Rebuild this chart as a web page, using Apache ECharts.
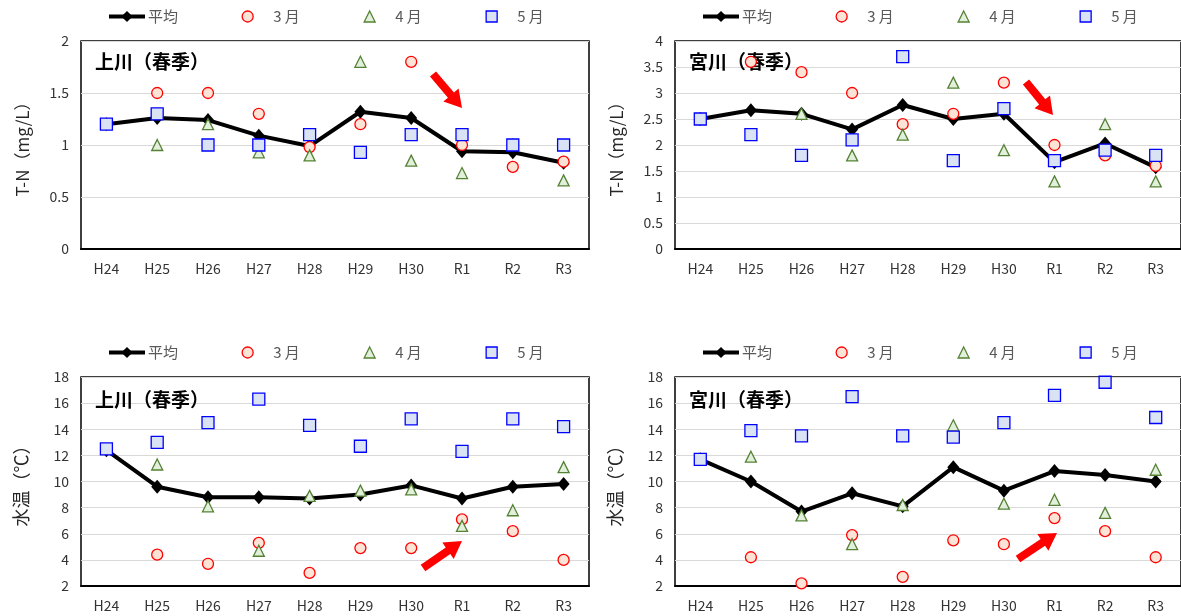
<!DOCTYPE html>
<html>
<head>
<meta charset="utf-8">
<script src="https://cdn.jsdelivr.net/npm/echarts@6/dist/echarts.min.js"></script>
<style>html,body{margin:0;padding:0;background:#fff}#c{width:1181px;height:616px}</style>
</head>
<body>
<div id="c"></div>
<script>
var categories = ['H24','H25','H26','H27','H28','H29','H30','R1','R2','R3'];

var tnKamiAvg = [1.2,1.26,1.24,1.09,0.99,1.32,1.26,0.94,0.93,0.83];
var tnKamiMar = [null,1.5,1.5,1.3,0.98,1.2,1.8,1.0,0.79,0.84];
var tnKamiApr = [null,1.0,1.2,0.93,0.9,1.8,0.85,0.73,1.0,0.66];
var tnKamiMay = [1.2,1.3,1.0,1.0,1.1,0.93,1.1,1.1,1.0,1.0];

var tnMiyaAvg = [2.5,2.67,2.6,2.3,2.77,2.5,2.6,1.67,2.03,1.57];
var tnMiyaMar = [null,3.6,3.4,3.0,2.4,2.6,3.2,2.0,1.8,1.6];
var tnMiyaApr = [null,2.2,2.6,1.8,2.2,3.2,1.9,1.3,2.4,1.3];
var tnMiyaMay = [2.5,2.2,1.8,2.1,3.7,1.7,2.7,1.7,1.9,1.8];

var wtKamiAvg = [12.4,9.6,8.8,8.8,8.7,9.0,9.7,8.7,9.6,9.8];
var wtKamiMar = [null,4.4,3.7,5.3,3.0,4.9,4.9,7.1,6.2,4.0];
var wtKamiApr = [null,11.3,8.1,4.7,8.9,9.3,9.4,6.6,7.8,11.1];
var wtKamiMay = [12.5,13.0,14.5,16.3,14.3,12.7,14.8,12.3,14.8,14.2];

var wtMiyaAvg = [11.7,10.0,7.7,9.1,8.1,11.1,9.3,10.8,10.5,10.0];
var wtMiyaMar = [null,4.2,2.2,5.9,2.7,5.5,5.2,7.2,6.2,4.2];
var wtMiyaApr = [null,11.9,7.4,5.2,8.2,14.3,8.3,8.6,7.6,10.9];
var wtMiyaMay = [11.7,13.9,13.5,16.5,13.5,13.4,14.5,16.6,17.6,14.9];

var seriesNames = ['平均','3 月','4 月','5 月'];
var panelTitles = ['上川（春季）','宮川（春季）','上川（春季）','宮川（春季）'];
var yNames = ['T-N（mg/L）','T-N（mg/L）','水温（℃）','水温（℃）'];
var yMin = [0,0,2,2], yMax = [2,4,18,18], yInterval = [0.5,0.5,2,2];

var panels = [
  [tnKamiAvg,tnKamiMar,tnKamiApr,tnKamiMay],
  [tnMiyaAvg,tnMiyaMar,tnMiyaApr,tnMiyaMay],
  [wtKamiAvg,wtKamiMar,wtKamiApr,wtKamiMay],
  [wtMiyaAvg,wtMiyaMar,wtMiyaApr,wtMiyaMay]
];

var FONT = '"Noto Sans CJK JP", "Noto Sans", sans-serif';
var gridPos = [
  {left:81, top:41, width:508, height:208},
  {left:675, top:41, width:508, height:208},
  {left:81, top:377, width:508, height:209},
  {left:675, top:377, width:508, height:209}
];
var legendCenterY = [17,17,353,353];

var grids=[], xAxes=[], yAxes=[], series=[], titles=[], legends=[];
var scatterStyles = [
  {symbol:'circle', color:'#fbe3d6', border:'#ff0000', size:11},
  {symbol:'triangle', color:'#e2efda', border:'#548235', size:11},
  {symbol:'rect', color:'#dae3f3', border:'#0000ff', size:12}
];

for (var p=0;p<4;p++){
  var g = gridPos[p];
  grids.push({left:g.left, top:g.top, width:g.width, height:g.height, show:true,
    borderColor:'#000', borderWidth:1.5, backgroundColor:'transparent', containLabel:false});
  xAxes.push({type:'category', gridIndex:p, data:categories, boundaryGap:true,
    axisLine:{show:true, lineStyle:{color:'#000', width:2}}, axisTick:{show:false},
    axisLabel:{color:'#333', fontSize:14, fontFamily:FONT, margin:13},
    splitLine:{show:false}});
  yAxes.push({type:'value', gridIndex:p, min:yMin[p], max:yMax[p], interval:yInterval[p],
    name:yNames[p], nameLocation:'middle', nameGap:(p<2?50:51), nameRotate:90,
    nameTextStyle:{color:'#262626', fontSize:(p<2?17:18), fontFamily:FONT},
    axisLine:{show:false}, axisTick:{show:false},
    axisLabel:{color:'#333', fontSize:14, fontFamily:FONT, margin:12},
    splitLine:{show:true, lineStyle:{color:'#d9d9d9', width:1}}});
  var d = panels[p];
  series.push({name:seriesNames[0], type:'line', xAxisIndex:p, yAxisIndex:p, data:d[0],
    symbol:'diamond', symbolSize:[12,14], showSymbol:true,
    lineStyle:{color:'#000', width:4}, itemStyle:{color:'#000'}, z:2});
  for (var s=0;s<3;s++){
    var st = scatterStyles[s];
    series.push({name:seriesNames[s+1], type:'scatter', xAxisIndex:p, yAxisIndex:p, data:d[s+1],
      symbol:st.symbol, symbolSize:st.size,
      itemStyle:{color:st.color, borderColor:st.border, borderWidth:1.3, opacity:1}, z:3});
  }
  titles.push({text:panelTitles[p], left:g.left+14, top:g.top+(p<2?11:13), padding:0, z:1,
    textStyle:{fontSize:19, fontWeight:'bold', color:'#000', fontFamily:FONT}});
  var off = g.left - 81;
  var cy = legendCenterY[p];
  var centers = [0, 247, 369, 491];
  for (var k=0;k<4;k++){
    if (k===0){
      legends.push({data:[seriesNames[0]], left:107+off, top:cy-8, padding:0,
        itemWidth:36, itemHeight:14, selectedMode:false,
        lineStyle:{width:4, color:'#000'},
        textStyle:{color:'#595959', fontSize:15, fontFamily:FONT, padding:[0,0,0,-2]}});
    } else {
      legends.push({data:[seriesNames[k]], left:centers[k]-5.5+off, top:cy-8, padding:0,
        itemWidth:11, itemHeight:11, selectedMode:false,
        itemStyle:{borderWidth:1.3},
        textStyle:{color:'#595959', fontSize:15, fontFamily:FONT, padding:[0,0,0,15]}});
    }
  }
}

function arrow(x1,y1,x2,y2){
  var dx=x2-x1, dy=y2-y1, L=Math.sqrt(dx*dx+dy*dy);
  var ux=dx/L, uy=dy/L, nx=-uy, ny=ux;
  var hl=17, hw=10, sw=4;
  var bx=x2-ux*hl, by=y2-uy*hl;
  return {type:'polygon', z:10, shape:{points:[
    [x1+nx*sw,y1+ny*sw],[bx+nx*sw,by+ny*sw],[bx+nx*hw,by+ny*hw],[x2,y2],
    [bx-nx*hw,by-ny*hw],[bx-nx*sw,by-ny*sw],[x1-nx*sw,y1-ny*sw]]},
    style:{fill:'#ff0000'}};
}
var arrowDefs = [[433,74,462,108],[1026,82,1053,115],[423,568,462,541],[1018,559,1057,533]];
var graphics = arrowDefs.map(function(a){return arrow(a[0],a[1],a[2],a[3]);});

var chart = echarts.init(document.getElementById('c'), null, {renderer:'canvas'});
chart.setOption({
  animation:false,
  backgroundColor:'#fff',
  title:titles,
  legend:legends,
  grid:grids,
  xAxis:xAxes,
  yAxis:yAxes,
  series:series,
  graphic:graphics
});
</script>
</body>
</html>
